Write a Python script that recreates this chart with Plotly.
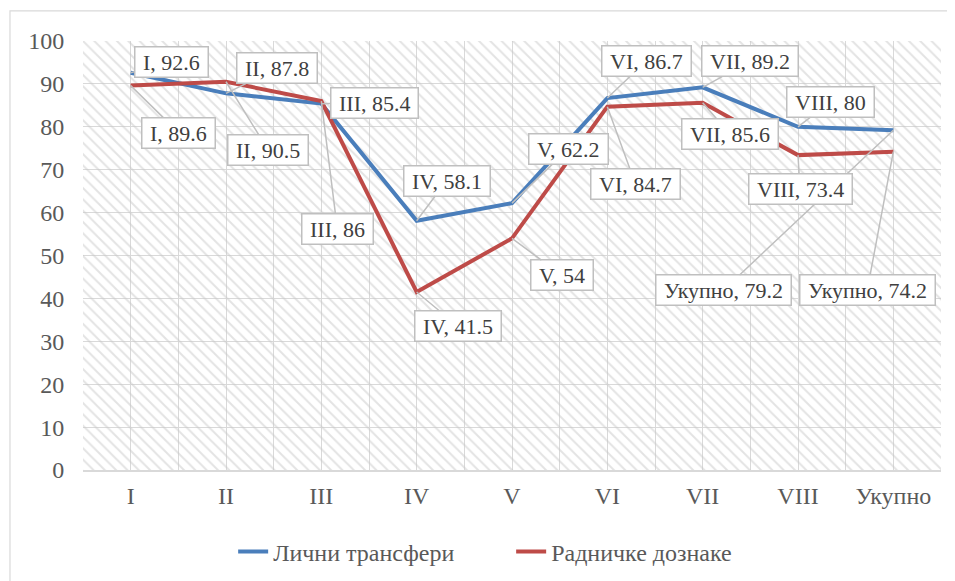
import plotly.graph_objects as go

categories = ["I", "II", "III", "IV", "V", "VI", "VII", "VIII", "Укупно"]
licni = [92.6, 87.8, 85.4, 58.1, 62.2, 86.7, 89.2, 80, 79.2]
radnicke = [89.6, 90.5, 86, 41.5, 54, 84.7, 85.6, 73.4, 74.2]
series_names = ["Лични трансфери", "Радничке дознаке"]
y_ticks = [0, 10, 20, 30, 40, 50, 60, 70, 80, 90, 100]

# label offsets (pixels) for callouts
licni_off = [(41, -11), (51, -25), (53, -1), (30, -40), (56, -54),
             (39, -37), (47, -26), (32, -25), (-170, 160)]
radnicke_off = [(48, 47), (42, 68), (16, 128), (41, 34), (50, 37),
                (28, 77), (27, 31), (2, 34), (-26, 138)]

BLUE = "#4a7ebb"
RED = "#be4b48"
FONT = "Liberation Serif"
TXT = "#595959"
GRID = "#d9d9d9"

n = len(categories)
xs = list(range(n))

fig = go.Figure()

# hatched plot-area background
fig.add_trace(go.Scatter(
    x=[-0.5, n - 0.5, n - 0.5, -0.5, -0.5],
    y=[y_ticks[0], y_ticks[0], y_ticks[-1], y_ticks[-1], y_ticks[0]],
    mode="lines", line=dict(width=0), fill="toself",
    fillcolor="rgba(0,0,0,0)",
    fillpattern=dict(shape="\\", fgcolor="#c8c8c8", bgcolor="rgba(0,0,0,0)",
                     size=8, solidity=0.25),
    hoverinfo="skip", showlegend=False,
))

for name, vals, col in [(series_names[0], licni, BLUE), (series_names[1], radnicke, RED)]:
    fig.add_trace(go.Scatter(
        x=xs, y=vals, mode="lines", name=name,
        line=dict(color=col, width=4),
    ))

annotations = []
for vals, offs in [(licni, licni_off), (radnicke, radnicke_off)]:
    for i, (v, (ax, ay)) in enumerate(zip(vals, offs)):
        annotations.append(dict(
            x=xs[i], y=v, xref="x", yref="y",
            text="\u00a0" + f"{categories[i]}, {v:g}" + "\u00a0",
            showarrow=True, arrowhead=0, arrowwidth=1.5, arrowcolor="#bfbfbf",
            ax=ax, ay=ay, axref="pixel", ayref="pixel", standoff=0,
            font=dict(family=FONT, size=22, color="#404040"),
            bgcolor="white", bordercolor="#bfbfbf", borderwidth=1.5, borderpad=2,
        ))

# outer chart frame
shapes = [dict(type="rect", xref="paper", yref="paper",
               x0=-0.0851, x1=1.3, y0=-1.0, y1=1.07,
               line=dict(color=GRID, width=1.2), fillcolor="rgba(0,0,0,0)", layer="below")]

fig.update_layout(
    width=947, height=573,
    margin=dict(l=75, r=14, t=33, b=111, autoexpand=False),
    paper_bgcolor="white", plot_bgcolor="white",
    font=dict(family=FONT, size=24, color=TXT),
    showlegend=True,
    legend=dict(orientation="h", x=0.175, xanchor="left", y=-0.191, yanchor="middle",
                font=dict(family=FONT, size=24, color=TXT),
                entrywidth=233, entrywidthmode="pixels",
                bgcolor="rgba(0,0,0,0)"),
    annotations=annotations,
    shapes=shapes,
)
fig.update_xaxes(
    range=[-0.5, n - 0.5], tickmode="array", tickvals=xs, ticktext=categories,
    showgrid=True, gridcolor=GRID, gridwidth=1, automargin=False,
    minor=dict(showgrid=True, gridcolor=GRID, gridwidth=1, tickmode="array",
               tickvals=[i - 0.5 for i in range(n + 1)]),
    showline=True, linecolor=GRID, linewidth=1.5, zeroline=False,
    ticks="outside", ticklen=3, tickcolor="rgba(0,0,0,0)",
    tickfont=dict(family=FONT, size=24, color=TXT),
)
fig.update_yaxes(
    range=[y_ticks[0], y_ticks[-1]], tickmode="array", tickvals=y_ticks,
    showgrid=True, gridcolor=GRID, gridwidth=1, zeroline=False, automargin=False,
    showline=False,
    ticks="outside", ticklen=13, tickcolor="rgba(0,0,0,0)",
    tickfont=dict(family=FONT, size=24, color=TXT),
)

fig.write_html("out.html")
